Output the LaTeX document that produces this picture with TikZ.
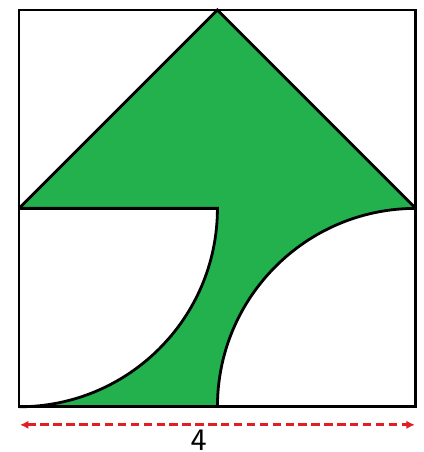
\documentclass[tikz,border=0pt]{standalone}
\usepackage{tikz}
\usetikzlibrary{arrows.meta}
\definecolor{shadegreen}{RGB}{34,177,76}
\definecolor{dimred}{RGB}{225,30,35}

\begin{document}
\begin{tikzpicture}[line join=miter,
    edge/.style={black,line width=0.8pt},
    dimline/.style={dimred,line width=0.9pt,dash pattern=on 2.4pt off 1.3pt,{Latex[length=2.4pt,width=2.4pt]}-{Latex[length=2.4pt,width=2.4pt]}}]
      \useasboundingbox (-0.192,-0.456) rectangle (4.081,4.101);
      % shaded region
      \fill[shadegreen] (0,2) -- (2,4) -- (4,2) arc (90:180:2) -- (0,0) arc (-90:0:2) -- cycle;
      % outlines
      \draw[edge] (0,0) rectangle (4,4);
      \draw[edge] (0,2) -- (2,4) -- (4,2);
      \draw[edge] (0,2) -- (2,2) arc (0:-90:2);
      \draw[edge] (4,2) arc (90:180:2);
      % dimension
      \coordinate (dl) at (0.01,-0.182);
      \coordinate (dr) at (3.99,-0.182);
      \draw[dimline] (dl) -- (dr);
      \node[font=\sffamily\small,anchor=north,inner sep=0pt] (side) at (1.81,-0.225) {4};
\end{tikzpicture}
\end{document}
